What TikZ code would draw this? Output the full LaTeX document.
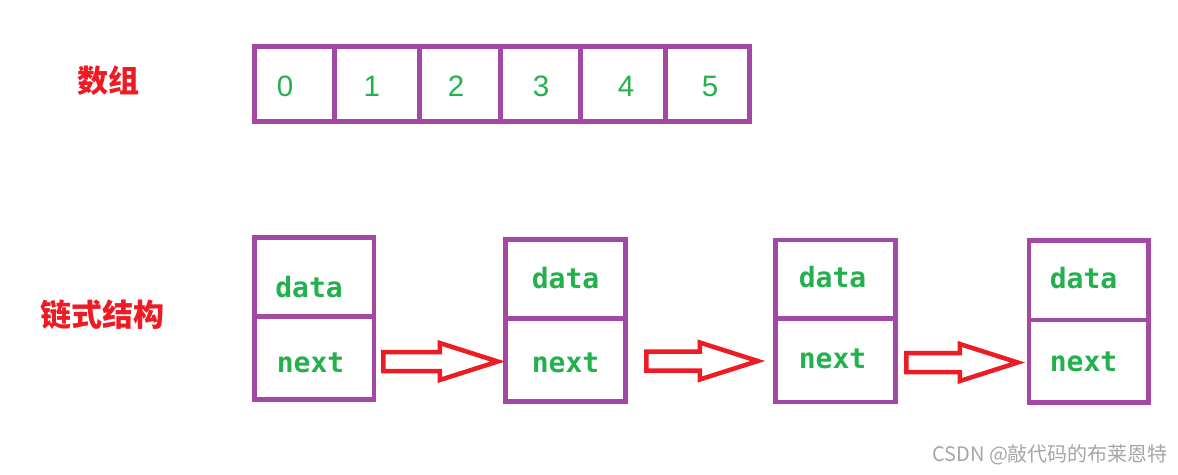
\documentclass[tikz,border=0pt]{standalone}
\usepackage{fontspec}
\setmainfont{Liberation Sans}
\newfontfamily\cjk{Noto Sans CJK SC}
\newfontfamily\monof{DejaVu Sans Mono}
\usetikzlibrary{calc}
\definecolor{pur}{HTML}{A349A4}
\definecolor{grn}{HTML}{22B14C}
\definecolor{redA}{HTML}{ED1C24}
\definecolor{wmgray}{HTML}{A6A6A6}
\newcommand\fatarrow[2]{%
  \draw[fatarr] let \p1=#1, \p2=#2 in
    (\x1,\y2-9.5) -- (\x2-58,\y2-9.5) -- (\x2-58,\y2-18.5) -- (\x2,\y2)
    -- (\x2-58,\y2+18.5) -- (\x2-58,\y2+9.5) -- (\x1,\y2+9.5) -- cycle;}
\begin{document}
\begin{tikzpicture}[x=1pt,y=-1pt,
  cellbox/.style={draw=pur,line width=4.5pt,inner sep=0pt},
  digit/.style={text=grn,font=\fontsize{29.5}{32}\selectfont,anchor=base,inner sep=0pt},
  ltxt/.style={text=grn,font=\monof\bfseries\fontsize{28}{32}\selectfont,anchor=base,inner sep=0pt},
  lab/.style={text=redA,font=\cjk\bfseries\fontsize{31}{34}\selectfont,anchor=base,inner sep=0pt},
  fatarr/.style={draw=redA,line width=4.5pt,fill=white,line join=miter}]
\fill[white] (0,0) rectangle (1178,474);
\useasboundingbox (0,0) rectangle (1178,474);

% labels
\node[lab] (arrlab) at (108,92.8) {数组};
\node[lab] (listlab) at (102,326.8) {链式结构};

% array cells
\node[cellbox,minimum width=80,minimum height=75] (a0) at (294.5,84) {};
\node[cellbox,minimum width=85,minimum height=75] (a1) at (377,84) {};
\node[cellbox,minimum width=81,minimum height=75] (a2) at (460,84) {};
\node[cellbox,minimum width=80,minimum height=75] (a3) at (540.5,84) {};
\node[cellbox,minimum width=85,minimum height=75] (a4) at (623,84) {};
\node[cellbox,minimum width=84,minimum height=75] (a5) at (707.5,84) {};
\node[digit] (d0) at (285,96) {0};
\node[digit] (d1) at (371.7,96) {1};
\node[digit] (d2) at (456,96) {2};
\node[digit] (d3) at (541,96) {3};
\node[digit] (d4) at (626,96) {4};
\node[digit] (d5) at (710,96) {5};

% linked list nodes
\node[cellbox,minimum width=119.5,minimum height=79] (n1d) at (314.25,277) {};
\node[cellbox,minimum width=119.5,minimum height=83] (n1n) at (314.25,358) {};
\node[cellbox,minimum width=120,minimum height=79] (n2d) at (565.5,279) {};
\node[cellbox,minimum width=120,minimum height=83] (n2n) at (565.5,360) {};
\node[cellbox,minimum width=120,minimum height=78.5] (n3d) at (835.5,279.25) {};
\node[cellbox,minimum width=120,minimum height=83.5] (n3n) at (835.5,360.25) {};
\node[cellbox,minimum width=119.5,minimum height=79.5] (n4d) at (1088.75,280.25) {};
\node[cellbox,minimum width=119.5,minimum height=82.5] (n4n) at (1088.75,361.25) {};

\node[ltxt] (t1d) at (309,297) {data};
\node[ltxt] (t1n) at (310.5,372) {next};
\node[ltxt] (t2d) at (565.5,288) {data};
\node[ltxt] (t2n) at (565.5,372) {next};
\node[ltxt] (t3d) at (832.5,287) {data};
\node[ltxt] (t3n) at (832.5,368) {next};
\node[ltxt] (t4d) at (1083.5,288) {data};
\node[ltxt] (t4n) at (1083.5,371) {next};

% arrows
\fatarrow{($(n1n.east)+(7,3.5)$)}{($(n2n.west)+(-5.5,1.5)$)}
\fatarrow{($(n2n.east)+(18.5,0.75)$)}{($(n3n.west)+(-15.5,0.75)$)}
\fatarrow{($(n3n.east)+(8.5,2)$)}{($(n4n.west)+(-9,1.25)$)}

% watermark
\node[anchor=base west,text=wmgray,font=\cjk\fontsize{20}{23}\selectfont,inner sep=0pt] (wm) at (932,461) {CSDN @敲代码的布莱恩特};
\end{tikzpicture}
\end{document}
